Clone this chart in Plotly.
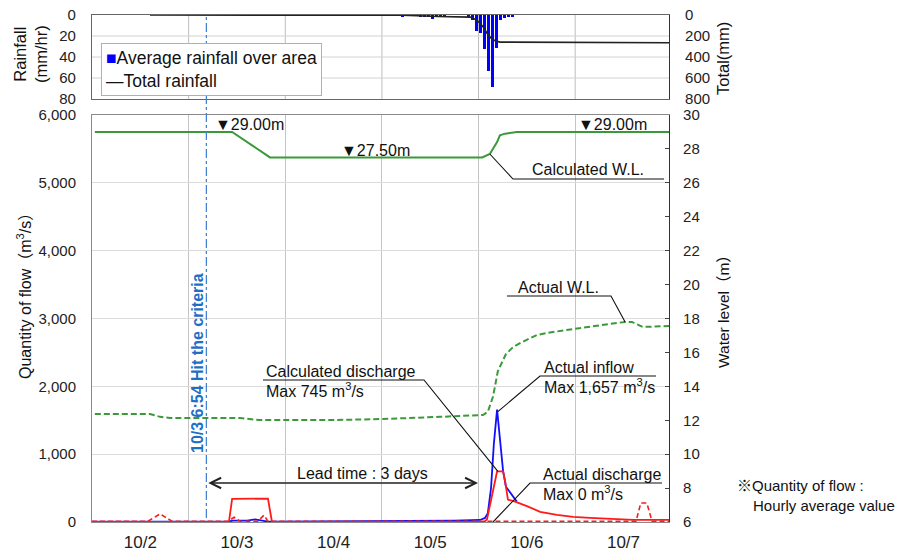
import plotly.graph_objects as go

# ---------------- data ----------------
DAY_LABELS = ["10/2", "10/3", "10/4", "10/5", "10/6", "10/7"]
LABEL_HOURS = [12, 36, 60, 84, 108, 132]      # hours since 10/2 00:00
DAY_BOUNDS = [24, 48, 72, 96, 120]
X_MAX = 143.3
HIT_HOUR = 28.4
HIT_TEXT = "10/3 6:54 Hit the criteria"

# Average rainfall over area (mm/hr)
RAIN_H = [77.2, 81.5, 82.5, 83.5, 84.5, 85.5, 86.5, 87.5, 93.5, 94.5, 95.5, 96.5,
          97.5, 98.5, 99.5, 100.5, 101.5, 102.5, 103.5, 104.5]
RAIN_MM = [2, 1, 1, 1.5, 4, 1, 1, 1, 2, 5, 15, 17, 32, 53, 69, 31, 5, 3, 1, 2]
RAIN_TICKS = [0, 20, 40, 60, 80]

# Total rainfall (mm)
TOTAL_H = [14.4, 77.0, 86.0, 93.9, 95.4, 96.4, 97.4, 98.1, 99.1, 100.1, 101.3, 143.3]
TOTAL_MM = [0, 3, 14, 20, 45, 79, 125, 174, 220, 245, 258, 264]

# Calculated water level (m)
CWL_H = [0.7, 34.8, 44.2, 96.9, 98.8, 100.6, 101.3, 102.6, 105.5, 143.3]
CWL_M = [29.0, 29.0, 27.5, 27.5, 27.7, 28.4, 28.8, 28.9, 29.0, 29.0]

# Actual water level (m)
AWL_H = [0.7, 14.4, 16.9, 19.4, 36.8, 41.7, 59.1, 72.0, 86.4, 97.1, 98.3, 99.6,
         100.8, 102.8, 104.6, 106.3, 110.5, 113.0, 119.5, 126.9, 132.4, 134.1, 136.8, 143.3]
AWL_M = [12.37, 12.37, 12.2, 12.13, 12.13, 12.01, 12.01, 12.07, 12.2, 12.31, 12.5, 13.4,
         14.9, 15.9, 16.32, 16.55, 17.03, 17.15, 17.38, 17.62, 17.8, 17.8, 17.5, 17.56]

# Actual inflow (m3/s)
INF_H = [0, 33.8, 35.0, 38.5, 40.5, 42.5, 43.7, 89.9, 96.4, 97.6, 98.3, 99.1, 99.8,
         100.6, 101.3, 102.1, 102.8, 104.1, 105.5]
INF_Q = [5, 5, 20, 20, 40, 20, 5, 20, 30, 60, 130, 500, 1150, 1657, 1200, 750, 520, 420, 300]

# Calculated discharge (m3/s)
CD_H = [0, 34.0, 34.8, 43.7, 44.7, 97.4, 98.1, 99.3, 100.1, 100.6, 102.1, 102.6, 103.3,
        105.1, 108.0, 111.3, 115.5, 119.5, 123.7, 127.9, 134.4, 143.3]
CD_Q = [0, 0, 340, 345, 0, 0, 40, 400, 650, 745, 745, 600, 330, 300, 235, 150, 105, 75,
        60, 45, 30, 30]

# Actual discharge (m3/s)
AD_H = [0, 13.9, 16.9, 19.9, 33.8, 35.3, 36.8, 41.2, 42.7, 43.7, 135.1, 136.3, 137.8, 139.1, 143.3]
AD_Q = [10, 10, 120, 10, 10, 70, 10, 10, 100, 10, 10, 280, 280, 10, 10]

# ---------------- layout helpers (pixel -> coordinates) ----------------
W, H = 910, 551
PL, PR, PT, PB = 92, 669, 15, 522
FONT = "Liberation Sans, Arial, Noto Sans CJK JP, sans-serif"


def px(p):   # pixel x -> paper
    return (p - PL) / (PR - PL)


def py(p):   # pixel y -> paper
    return (PB - p) / (PB - PT)


def hx(p):   # pixel x -> hours
    return (p - PL) / (PR - PL) * X_MAX


def fy(p):   # pixel y -> flow
    return (PB - p) / (PB - 115) * 6000


def wy(p):   # pixel y -> water level
    return 6 + (PB - p) / (PB - 115) * 24


GREEN = "#3a9a3a"
BLUE = "#1010ff"
RED = "#ff1a1a"
GRID_V = "#bdbdbd"
GRID_H = "#d2d2d2"

fig = go.Figure()

# top panel
fig.add_trace(go.Bar(x=RAIN_H, y=RAIN_MM, width=0.75, marker=dict(color="#0000ff", line_width=0),
                     xaxis="x2", yaxis="y3", name="Average rainfall over area"))
fig.add_trace(go.Scatter(x=TOTAL_H, y=TOTAL_MM, mode="lines", line=dict(color="#222", width=1.6),
                         xaxis="x2", yaxis="y4", name="Total rainfall"))

# bottom panel
fig.add_trace(go.Scatter(x=INF_H, y=INF_Q, mode="lines", line=dict(color=BLUE, width=1.8),
                         xaxis="x", yaxis="y", name="Actual inflow"))
fig.add_trace(go.Scatter(x=AD_H, y=AD_Q, mode="lines", line=dict(color=RED, width=1.6, dash="5px,3px"),
                         xaxis="x", yaxis="y", name="Actual discharge"))
fig.add_trace(go.Scatter(x=CD_H, y=CD_Q, mode="lines", line=dict(color=RED, width=1.8),
                         xaxis="x", yaxis="y", name="Calculated discharge"))
fig.add_trace(go.Scatter(x=AWL_H, y=AWL_M, mode="lines", line=dict(color=GREEN, width=2, dash="6px,3px"),
                         xaxis="x", yaxis="y2", name="Actual W.L."))
fig.add_trace(go.Scatter(x=CWL_H, y=CWL_M, mode="lines", line=dict(color=GREEN, width=2),
                         xaxis="x", yaxis="y2", name="Calculated W.L."))

dom_bot = [0, py(115)]
dom_top = [py(99), 1]
tickfont = dict(family=FONT, size=15, color="#222")
grid_minor = dict(tickmode="linear", tick0=0, dtick=24, showgrid=True, gridcolor="#c4c4c4",
                  gridwidth=1, ticks="")

fig.update_layout(
    width=W, height=H,
    margin=dict(l=PL, r=W - PR, t=PT, b=H - PB, pad=0, autoexpand=False),
    paper_bgcolor="white", plot_bgcolor="white",
    showlegend=False, bargap=0,
    font=dict(family=FONT, size=15, color="#111"),
    xaxis=dict(domain=[0, 1], anchor="y", range=[0, X_MAX], tickmode="array",
               tickvals=LABEL_HOURS, ticktext=DAY_LABELS, showgrid=False, ticks="",
               tickfont=dict(family=FONT, size=17, color="#222"), ticklabelstandoff=5,
               minor=grid_minor, showline=True, linecolor="#8a8a8a", linewidth=1, mirror=True,
               zeroline=False, automargin=False),
    xaxis2=dict(domain=[0, 1], anchor="y3", range=[0, X_MAX], showticklabels=False,
                showgrid=False, ticks="", showline=True, linecolor="#666", linewidth=1.3,
                mirror=True, zeroline=False, automargin=False),
    yaxis=dict(domain=dom_bot, anchor="x", range=[0, 6000], tickmode="linear", tick0=0, dtick=1000,
               tickformat=",d", showgrid=True, gridcolor="#dcdcdc", gridwidth=1, ticks="",
               tickfont=tickfont, ticklabelstandoff=12, showline=True, linecolor="#8a8a8a",
               linewidth=1, zeroline=False, automargin=False),
    yaxis2=dict(overlaying="y", side="right", anchor="x", range=[6, 30], tickmode="linear",
                tick0=6, dtick=2, showgrid=False, ticks="inside", ticklen=4, tickcolor="#444",
                tickfont=tickfont, ticklabelstandoff=10, showline=True, linecolor="#333",
                linewidth=1.2, zeroline=False, automargin=False),
    yaxis3=dict(domain=dom_top, anchor="x2", range=[80, 0], tickmode="linear", tick0=0, dtick=20,
                showgrid=False, ticks="", tickfont=tickfont,
                ticklabelstandoff=12, showline=True, linecolor="#666", linewidth=1.3,
                zeroline=False, automargin=False),
    yaxis4=dict(overlaying="y3", side="right", anchor="x2", range=[800, 0], tickmode="linear",
                tick0=0, dtick=200, showgrid=False, ticks="", tickfont=tickfont,
                ticklabelstandoff=12, showline=True, linecolor="#333", linewidth=1.2,
                zeroline=False, automargin=False),
)


def rain_paper_y(v):   # rainfall value -> paper y inside the top panel (reversed axis)
    return dom_top[0] + (80 - v) / 80 * (dom_top[1] - dom_top[0])


shapes = []
# top-panel gridlines
for d in DAY_BOUNDS:
    shapes.append(dict(type="line", xref="paper", yref="paper", x0=d / X_MAX, x1=d / X_MAX,
                       y0=dom_top[0], y1=dom_top[1], line=dict(color=GRID_V, width=1), layer="below"))
for v in RAIN_TICKS[1:-1]:
    shapes.append(dict(type="line", xref="paper", yref="paper", x0=0, x1=1,
                       y0=rain_paper_y(v), y1=rain_paper_y(v),
                       line=dict(color=GRID_H, width=1), layer="below"))

# hit-the-criteria vertical line across both panels
shapes.append(dict(type="line", xref="x", yref="paper", x0=HIT_HOUR, x1=HIT_HOUR, y0=py(518), y1=1,
                   line=dict(color="#3b7dd0", width=1.2, dash="dashdot"), layer="above"))

LEAD = "#111"
# leader lines (underline + diagonal to the curve)
leaders = [
    ("y2", [(CWL_H[4], CWL_M[4]), (hx(513), wy(179)), (hx(664), wy(179))]),
    ("y2", [(hx(507), wy(296)), (hx(611), wy(296)), (AWL_H[20], AWL_M[20])]),
    ("y", [(hx(263), fy(380)), (hx(424), fy(380)), (CD_H[9] + 0.2, CD_Q[9])]),
    ("y", [(hx(656), fy(376)), (hx(540), fy(376)), (INF_H[13] + 0.2, INF_Q[13] - 30)]),
    ("y", [(hx(662), fy(483)), (hx(530), fy(483)), (99.6, 0)]),
]
for yref, pts in leaders:
    path = "M " + " L ".join(f"{x},{y}" for x, y in pts)
    shapes.append(dict(type="path", xref="x", yref=yref, path=path,
                       line=dict(color=LEAD, width=1.1), layer="above"))
fig.update_layout(shapes=shapes)

ann = []


def label(text, xp, yp, size=16, **kw):
    d = dict(text=text, xref="paper", yref="paper", x=px(xp), y=py(yp), xanchor="left",
             yanchor="middle", showarrow=False, font=dict(family=FONT, size=size, color="#111"))
    d.update(kw)
    ann.append(d)


label("▼29.00m", 213, 124)
label("▼27.50m", 339, 150)
label("▼29.00m", 576, 124)
label("Calculated W.L.", 530, 169)
label("Actual W.L.", 516, 287)
label("Calculated discharge", 264, 371)
label("Max 745 m<sup>3</sup>/s", 264, 390)
label("Actual inflow", 542, 367)
label("Max 1,657 m<sup>3</sup>/s", 542, 386)
label("Actual discharge", 541, 474)
label("Max 0 m<sup>3</sup>/s", 541, 493)
label("Lead time : 3 days", 295, 473)
label("※Quantity of flow :", 735, 485, size=15)
label("Hourly average value", 751, 505, size=15)

# legend box (top panel)
ann.append(dict(text="<span style='color:#0000ff'>■</span>Average rainfall over area<br>—Total rainfall",
                xref="paper", yref="paper", x=px(101), y=py(43), xanchor="left", yanchor="top",
                align="left", showarrow=False, bgcolor="white", bordercolor="#b0b0b0",
                borderwidth=1, borderpad=4, font=dict(family=FONT, size=17.5, color="#111")))


def vtitle(text, xp, yp, size, color="#111"):
    ann.append(dict(text=text, xref="paper", yref="paper", x=px(xp), y=py(yp), xanchor="center",
                    yanchor="middle", textangle=-90, showarrow=False,
                    font=dict(family=FONT, size=size, color=color)))


vtitle("Quantity of flow（m<sup>3</sup>/s）", 24, 292, 16)
vtitle("Water level（m）", 723, 308, 15.5)
vtitle("Total(mm)", 723, 59, 16.5)
vtitle("Rainfall<br>(mm/hr)", 31, 54, 16.5)
vtitle(f"<b>{HIT_TEXT}</b>", 197, 363, 16, color="#1f6fc4")

# lead-time double arrow
ann.append(dict(text="", xref="x", yref="y", x=hx(478), y=fy(483), axref="x", ayref="y",
                ax=HIT_HOUR + 0.1, ay=fy(483), showarrow=True, arrowside="end+start",
                arrowhead=5, startarrowhead=5, arrowsize=1.6, startarrowsize=1.6, arrowwidth=1.3,
                arrowcolor="#222", standoff=0, startstandoff=0))

fig.update_layout(annotations=ann)
fig.write_html("out.html", config={"displayModeBar": False},
               post_script="document.body.style.margin='0px';document.body.style.overflow='hidden';")
